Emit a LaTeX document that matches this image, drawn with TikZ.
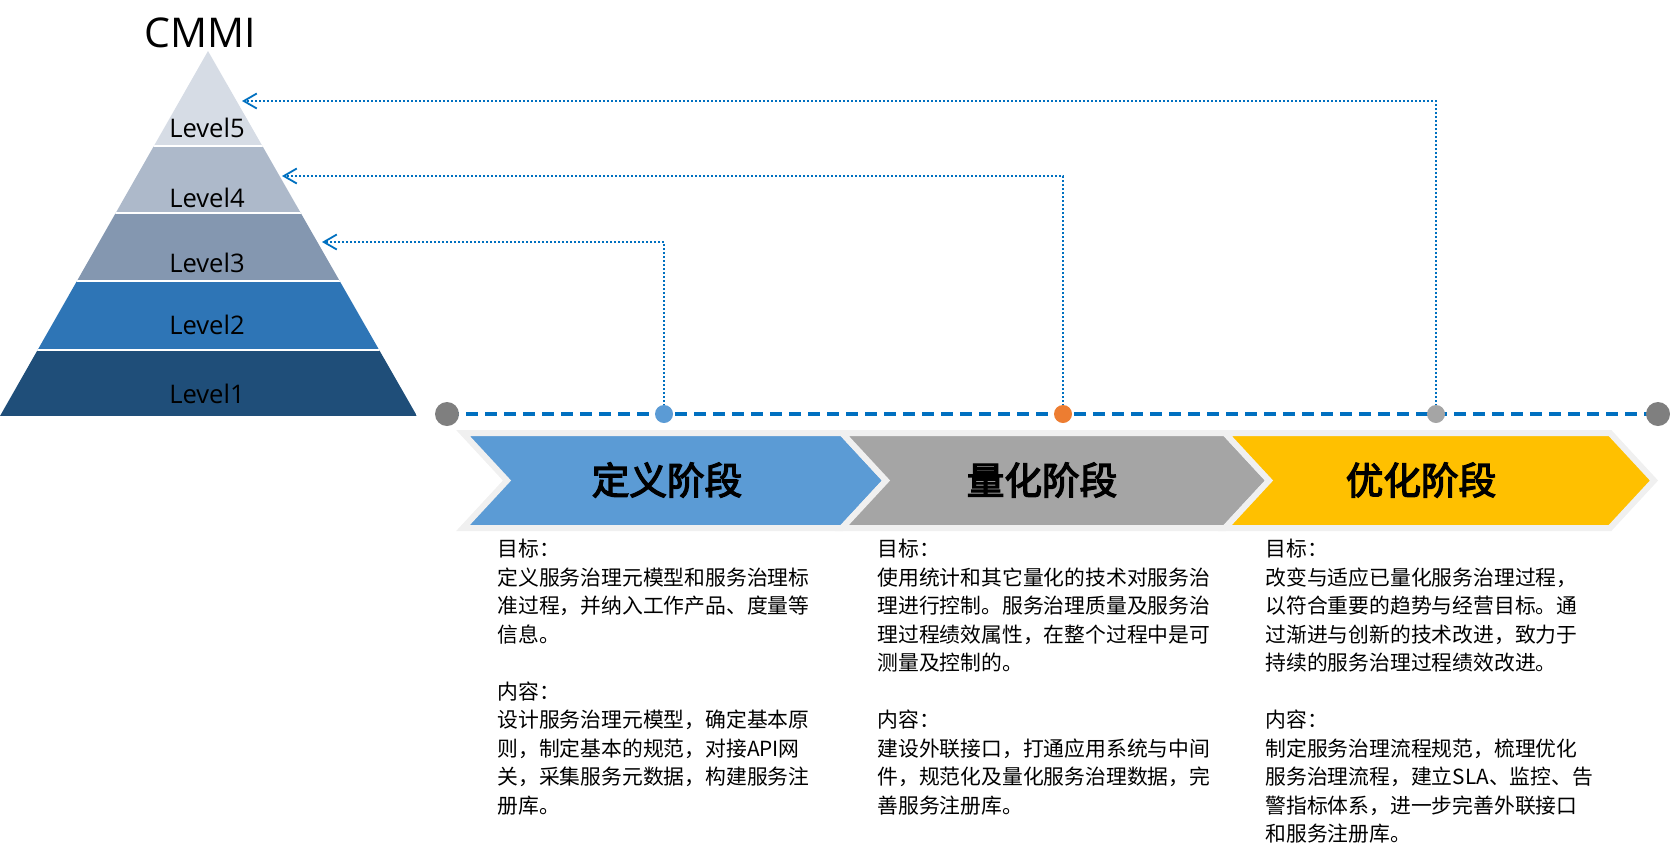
\documentclass[tikz,border=0pt]{standalone}
\usepackage{fontspec}
\setmainfont{Noto Sans CJK SC}
\newfontfamily\latinfont{Open Sans}
\newfontfamily\titlefont{Noto Sans CJK SC}[FakeBold=3.5]
\usetikzlibrary{arrows.meta}
\definecolor{lvE}{HTML}{D6DCE5}
\definecolor{lvD}{HTML}{ADB9CA}
\definecolor{lvC}{HTML}{8497B0}
\definecolor{lvB}{HTML}{2E75B6}
\definecolor{lvA}{HTML}{1F4E79}
\definecolor{chblue}{HTML}{5B9BD5}
\definecolor{chgray}{HTML}{A5A5A5}
\definecolor{chyellow}{HTML}{FFC000}
\definecolor{chborder}{HTML}{F0F0F0}
\definecolor{lineblue}{HTML}{0070C0}
\definecolor{dotgray}{HTML}{7F7F7F}
\definecolor{dotorange}{HTML}{ED7D31}
\tikzset{
  lvl/.style={inner sep=0pt, font=\latinfont\fontsize{12.8}{14}\selectfont, text=black},
  chev/.style={draw=chborder, line width=3pt, line join=miter},
  ttl/.style={inner sep=0pt, font=\titlefont\fontsize{18.8}{20}\selectfont, text=black},
  body/.style={inner sep=0pt, anchor=north west, align=left, font=\fontsize{10.4}{14.25}\selectfont, text=black},
  timeline/.style={draw=lineblue, line width=2pt, dash pattern=on 6pt off 3.5pt},
  dot/.style={circle, inner sep=0pt, draw=none},
  conn/.style={draw=lineblue, line width=0.9pt, dash pattern=on 1pt off 1pt, -{Straight Barb[length=6.5pt,width=7.5pt,line width=0.9pt]}}
}
\begin{document}
\begin{tikzpicture}[x=0.5pt,y=-0.5pt]
\useasboundingbox (0,0) rectangle (1670,859);
% pyramid
\begin{scope}
\clip (208,51) -- (417,416) -- (0,416) -- cycle;
\fill[lvE] (0,0) rectangle (417,146);
\fill[lvD] (0,146) rectangle (417,213);
\fill[lvC] (0,213) rectangle (417,281);
\fill[lvB] (0,281) rectangle (417,350);
\fill[lvA] (0,350) rectangle (417,416);
\foreach \yy in {146,213,281,350} \draw[white,line width=1.4pt] (0,\yy) -- (417,\yy);
\end{scope}
\node[inner sep=0pt, font=\latinfont\fontsize{20.5}{22}\selectfont] (cmmi) at (200,33) {CMMI};
\node[lvl] (L5) at (207,128) {Level5};
\node[lvl] (L4) at (207,198) {Level4};
\node[lvl] (L3) at (207,263) {Level3};
\node[lvl] (L2) at (207,325) {Level2};
\node[lvl] (L1) at (207,394) {Level1};
\coordinate (t5) at (242,101);
\coordinate (t4) at (282,176);
\coordinate (t3) at (322,242);
% chevrons
\path[chev, fill=chblue] (463,433) -- (842,433) -- (886,480.5) -- (842,528) -- (463,528) -- (507,480.5) -- cycle;
\path[chev, fill=chgray] (842,433) -- (1225,433) -- (1269,480.5) -- (1225,528) -- (842,528) -- (886,480.5) -- cycle;
\path[chev, fill=chyellow] (1225,433) -- (1610,433) -- (1654,480.5) -- (1610,528) -- (1225,528) -- (1269,480.5) -- cycle;
\node[ttl] (T1) at (667,480) {定义阶段};
\node[ttl] (T2) at (1042,480) {量化阶段};
\node[ttl] (T3) at (1421,480) {优化阶段};
% timeline
\coordinate (tl) at (447,414);
\coordinate (tr) at (1658,414);
\draw[timeline] (tl) -- (tr);
\coordinate (d1c) at (664,414);
\coordinate (d2c) at (1063,414);
\coordinate (d3c) at (1436,414);
\draw[conn] (d1c) |- (t3);
\draw[conn] (d2c) |- (t4);
\draw[conn] (d3c) |- (t5);
\node[dot, fill=dotgray, minimum size=12pt] (d0) at (tl) {};
\node[dot, fill=dotgray, minimum size=12pt] (d4) at (tr) {};
\node[dot, fill=chblue, minimum size=9pt] (d1) at (d1c) {};
\node[dot, fill=dotorange, minimum size=9pt] (d2) at (d2c) {};
\node[dot, fill=chgray, minimum size=9pt] (d3) at (d3c) {};
% texts
\node[body] (B1) at (497,539) {目标：\\定义服务治理元模型和服务治理标\\准过程，并纳入工作产品、度量等\\信息。\\[14.25pt]内容：\\设计服务治理元模型，确定基本原\\则，制定基本的规范，对接API网\\关，采集服务元数据，构建服务注\\册库。};
\node[body] (B2) at (877,539) {目标：\\使用统计和其它量化的技术对服务治\\理进行控制。服务治理质量及服务治\\理过程绩效属性，在整个过程中是可\\测量及控制的。\\[14.25pt]内容：\\建设外联接口，打通应用系统与中间\\件，规范化及量化服务治理数据，完\\善服务注册库。};
\node[body] (B3) at (1265,539) {目标：\\改变与适应已量化服务治理过程，\\以符合重要的趋势与经营目标。通\\过渐进与创新的技术改进，致力于\\持续的服务治理过程绩效改进。\\[14.25pt]内容：\\制定服务治理流程规范，梳理优化\\服务治理流程，建立SLA、监控、告\\警指标体系，进一步完善外联接口\\和服务注册库。};
\end{tikzpicture}
\end{document}
